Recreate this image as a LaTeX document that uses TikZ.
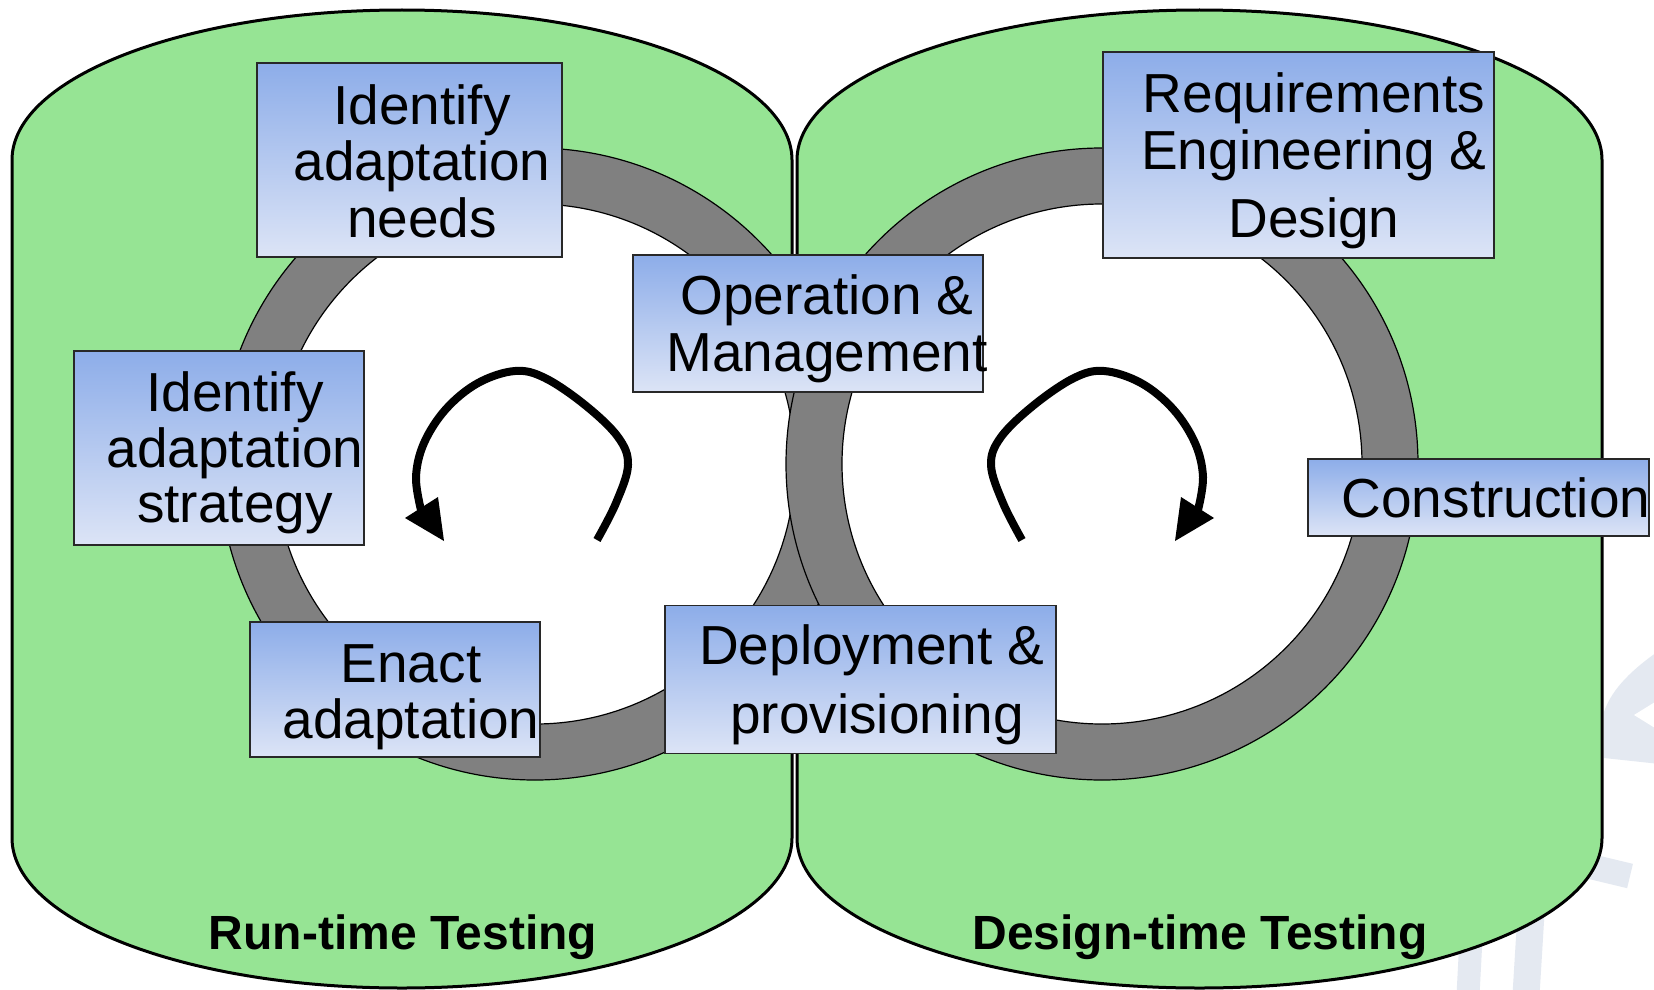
\documentclass[tikz,border=0pt]{standalone}
\usepackage{fontspec}
\setmainfont{Liberation Sans}
\definecolor{cgreen}{RGB}{150,228,148}
\definecolor{cring}{RGB}{128,128,128}
\definecolor{boxtop}{RGB}{141,173,233}
\definecolor{boxbot}{RGB}{220,228,246}
\definecolor{boxline}{RGB}{40,40,40}
\definecolor{wmark}{RGB}{228,233,241}
\begin{document}
\begin{tikzpicture}[x=1pt,y=-1pt,
  container/.style={fill=cgreen, draw=black, line width=3pt},
  ringband/.style={fill=cring, draw=black, line width=1.2pt},
  ringhole/.style={fill=white, draw=black, line width=1.2pt},
  stage/.style={rectangle, draw=boxline, line width=1.3pt, top color=boxtop,
    bottom color=boxbot, inner sep=0pt, outer sep=0pt},
  lbl/.style={anchor=base, inner sep=0pt, font=\fontsize{55}{57}\selectfont},
  zone/.style={anchor=base, inner sep=0pt, font=\bfseries\fontsize{48}{50}\selectfont},
  loop/.style={line width=8pt, line join=round},
  wm/.style={draw=wmark, fill=none}]

% canvas
\fill[white] (0,0) rectangle (1654,990);
\useasboundingbox (0,0) rectangle (1654,990);

% faint emblem in the lower right corner
\fill[wmark] (1660,650) .. controls (1634,668) and (1612,688) .. (1604,712)
  -- (1604,758) -- (1660,764) -- cycle;
\fill[white] (1655,702) -- (1634,715) -- (1655,728) -- cycle;
\draw[wm, line width=25pt] (1580,864) -- (1630,876);
\draw[wm, line width=23pt] (1473,900) -- (1468,995);
\draw[wm, line width=27pt] (1533,880) -- (1526,995);

% the two testing areas
\draw[container] (12,838) -- (12,160)
  .. controls (12,77.2) and (186.6,10) .. (402,10)
  .. controls (617.4,10) and (792,77.2) .. (792,160)
  -- (792,838)
  .. controls (792,920.8) and (617.4,988) .. (402,988)
  .. controls (186.6,988) and (12,920.8) .. (12,838) -- cycle;
\draw[container] (797,838) -- (797,160)
  .. controls (797,77.2) and (977.2,10) .. (1199.5,10)
  .. controls (1421.8,10) and (1602,77.2) .. (1602,160)
  -- (1602,838)
  .. controls (1602,920.8) and (1421.8,988) .. (1199.5,988)
  .. controls (977.2,988) and (797,920.8) .. (797,838) -- cycle;

% the two cycles
\coordinate (lc) at (535,464);
\coordinate (rc) at (1102,464);
\draw[ringband] (lc) circle[radius=316pt];
\draw[ringhole] (lc) circle[radius=260pt];
\draw[ringband] (rc) circle[radius=316pt];
\draw[ringhole] (rc) circle[radius=260pt];

% stage boxes
\node[stage, minimum width=305pt, minimum height=194pt] (b1) at (409.5,160) {};
\node[stage, minimum width=290pt, minimum height=194pt] (b2) at (219,448) {};
\node[stage, minimum width=290pt, minimum height=135pt] (b3) at (395,689.5) {};
\node[stage, minimum width=350pt, minimum height=137pt] (b4) at (808,323.5) {};
\node[stage, minimum width=391pt, minimum height=148pt] (b5) at (860.5,679.5) {};
\node[stage, minimum width=391pt, minimum height=206pt] (b6) at (1298.5,155) {};
\node[stage, minimum width=341pt, minimum height=77pt] (b7) at (1478.5,497.5) {};

% stage texts
\node[lbl] (t1a) at (422,124) {Identify};
\node[lbl] (t1b) at (422,180) {adaptation};
\node[lbl] (t1c) at (422,237) {needs};
\node[lbl] (t2a) at (235,411) {Identify};
\node[lbl] (t2b) at (235,467) {adaptation};
\node[lbl] (t2c) at (235,522) {strategy};
\node[lbl] (t3a) at (411,682) {Enact};
\node[lbl] (t3b) at (411,738) {adaptation};
\node[lbl] (t4a) at (827,314) {Operation \&};
\node[lbl] (t4b) at (827,371) {Management};
\node[lbl] (t5a) at (872,664) {Deployment \&};
\node[lbl] (t5b) at (877,733) {provisioning};
\node[lbl] (t6a) at (1314,112) {Requirements};
\node[lbl] (t6b) at (1314,169) {Engineering \&};
\node[lbl] (t6c) at (1314,237) {Design};
\node[lbl] (t7a) at (1496,517) {Construction};

% cycle direction arrows
\coordinate (la0) at (597,540);
\coordinate (la1) at (421,510);
\draw[loop] plot[smooth, tension=0.6] coordinates {(la0) (616,503) (628,465) (618,437)
  (585,405) (545,378) (515,371) (478,383) (446,409) (424,443) (416,477) (la1)};
\fill (405,518) -- (438,497) -- (444,541) -- cycle;
\coordinate (ra0) at (1022,540);
\coordinate (ra1) at (1198,510);
\draw[loop] plot[smooth, tension=0.6] coordinates {(ra0) (1003,503) (991,465) (1001,437)
  (1034,405) (1074,378) (1104,371) (1141,383) (1173,409) (1195,443) (1203,477) (ra1)};
\fill (1214,518) -- (1181,497) -- (1175,541) -- cycle;

% area labels
\node[zone] (runt) at (403,949) {Run-time Testing};
\node[zone] (dest) at (1200,949) {Design-time Testing};
\end{tikzpicture}
\end{document}
